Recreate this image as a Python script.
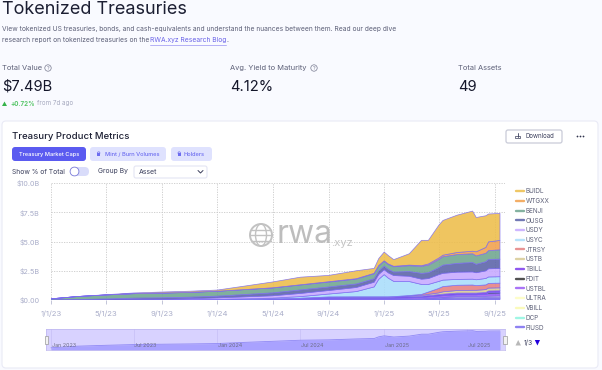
import numpy as np, pandas as pd, seaborn as sns
import matplotlib
matplotlib.use("Agg")
import matplotlib.pyplot as plt
from matplotlib.lines import Line2D
from matplotlib.patches import FancyBboxPatch, Circle, Ellipse, Polygon, Rectangle

dates = ["2023-01-01","2023-03-01","2023-05-01","2023-07-01","2023-09-01","2023-11-01","2024-01-01","2024-03-01",
         "2024-05-01","2024-07-01","2024-09-01","2024-11-01","2024-12-10","2024-12-20","2025-01-01","2025-01-10","2025-01-22",
         "2025-02-25","2025-03-24","2025-04-08","2025-05-01","2025-05-10","2025-06-10","2025-07-14","2025-07-22",
         "2025-08-12","2025-08-18","2025-09-12"]
FIUSD=[0,0,0,0,0,0,0,0,0,0,0,0,0,0,0,0,.01,.02,.03,.05,.08,.1,.12,.12,.12,.13,.13,.13]
DCP  =[0,0,0,0,0,0,0,0,0,0,0,.01,.01,.01,.01,.01,.01,.02,.02,.02,.02,.02,.03,.03,.03,.03,.03,.03]
VBILL=[0,0,0,0,0,0,0,0,0,0,0,0,0,0,0,0,0,.01,.01,.02,.04,.05,.06,.06,.06,.07,.07,.08]
ULTRA=[0,0,0,0,0,0,0,0,.01,.02,.03,.03,.03,.03,.03,.03,.03,.04,.04,.05,.05,.05,.08,.08,.08,.08,.09,.1]
USTBL=[0,0,0,0,0,0,.01,.02,.03,.05,.1,.1,.1,.1,.1,.1,.1,.1,.12,.13,.15,.15,.16,.16,.16,.18,.2,.2]
FDIT =[0,0,0,0,0,0,0,0,0,0,0,0,0,0,0,0,0,0,0,0,0,0,0,0,0,0,.1,.1]
TBILL=[0,0,0,0,0,0,0,.02,.04,.06,.1,.1,.1,.1,.1,.1,.1,.1,.1,.11,.12,.13,.14,.14,.14,.15,.15,.15]
USTB =[0,0,0,0,0,0,0,0,.01,.02,.03,.03,.03,.03,.03,.03,.04,.06,.08,.1,.15,.2,.22,.24,.24,.25,.25,.25]
JTRSY=[0,0,0,0,0,0,0,0,0,0,0,0,0,0,0,0,0,.03,.08,.2,.38,.45,.45,.45,.4,.4,.4,.4]
USYC =[0,0,.01,.02,.03,.03,.05,.06,.07,.14,.25,.45,.85,1.5,1.9,1.6,1.3,1.2,.85,.65,.6,.55,.5,.5,.5,.55,.55,.55]
USDY =[0,0,0,.01,.03,.08,.12,.17,.2,.27,.3,.35,.4,.41,.42,.45,.5,.45,.45,.5,.58,.58,.62,.62,.6,.65,.7,.7]
OUSG =[.01,.04,.08,.13,.13,.13,.15,.2,.25,.3,.3,.3,.3,.3,.3,.3,.3,.4,.5,.5,.6,.7,.75,.8,.72,.78,.8,.8]
BENJI=[.09,.26,.34,.38,.4,.41,.42,.42,.42,.42,.42,.42,.43,.43,.43,.43,.45,.5,.6,.65,.7,.72,.75,.75,.72,.72,.75,.8]
WTGXX=[0,0,0,0,0,0,0,0,.01,.02,.03,.03,.03,.03,.03,.03,.04,.05,.05,.1,.12,.13,.18,.22,.35,.5,.75,.8]
BUIDL=[0,0,.02,.06,.09,.1,.1,.3,.5,.65,.54,.68,.42,.6,.75,.72,.57,.97,2.17,2.02,2.81,2.97,3.19,3.43,2.93,2.71,2.38,2.31]
labels_top = ["BUIDL","WTGXX","BENJI","OUSG","USDY","USYC","JTRSY","USTB","TBILL","FDIT","USTBL","ULTRA","VBILL","DCP","FIUSD"]
values_top = [BUIDL,WTGXX,BENJI,OUSG,USDY,USYC,JTRSY,USTB,TBILL,FDIT,USTBL,ULTRA,VBILL,DCP,FIUSD]
colors_top = ["#EDBD4A","#F2A04B","#6FA58F","#5A62A8","#C6A9FF","#A9DDFB","#E58080","#D8CA94","#7C3AED","#333333",
              "#9B5CF6","#FDFDC0","#FAFAB0","#8FF5E0","#7B6CF0"]
y_ticks = [0,2.5,5,7.5,10]
y_labels = ["$0.00","$2.5B","$5.0B","$7.5B","$10.0B"]
x_ticks = ["2023-01-01","2023-05-01","2023-09-01","2024-01-01","2024-05-01","2024-09-01","2025-01-01","2025-05-01","2025-09-01"]
x_labels = ["1/1/23","5/1/23","9/1/23","1/1/24","5/1/24","9/1/24","1/1/25","5/1/25","9/1/25"]
nav_ticks = ["2023-01-01","2023-07-01","2024-01-01","2024-07-01","2025-01-01","2025-07-01"]
nav_labels = ["Jan 2023","Jul 2023","Jan 2024","Jul 2024","Jan 2025","Jul 2025"]

sns.set_theme(style="white")
plt.rcParams["font.family"] = ["Inter","DejaVu Sans"]
W,H = 602,370
fig = plt.figure(figsize=(W/100,H/100),dpi=100,facecolor="#F9FAFF")

def axes_px(x0,y0,x1,y1,**kw):
    return fig.add_axes([x0/W,1-y1/H,(x1-x0)/W,(y1-y0)/H],**kw)

ui = axes_px(0,0,W,H); ui.set_xlim(0,W); ui.set_ylim(H,0); ui.axis("off"); ui.set_zorder(0)
def T(x,y,s,size,color="#3b3f5c",ha="left",weight="normal",**kw):
    return ui.text(x,y,s,fontsize=size,color=color,ha=ha,va="center",fontweight=weight,**kw)
def box(x0,y0,x1,y1,fc,ec="none",r=2,lw=.8,z=1):
    ui.add_patch(FancyBboxPatch((x0+r,y0+r),x1-x0-2*r,y1-y0-2*r,boxstyle=f"round,pad={r},rounding_size={r}",fc=fc,ec=ec,lw=lw,zorder=z))

T(2,9,"Tokenized Treasuries",13,"#1c1f33")
T(2,29,"View tokenized US treasuries, bonds, and cash-equivalents and understand the nuances between them. Read our deep dive",4.8,"#5d6078")
T(2,40,"research report on tokenized treasuries on the",4.8,"#5d6078")
T(150,40,"RWA.xyz Research Blog",4.8,"#6a63e8")
ui.plot([150,226],[44.5,44.5],color="#a9a4f5",lw=.6)
T(226.5,40,".",4.8,"#5d6078")
T(2,68,"Total Value",5.4,"#5d6078")
T(230,68,"Avg. Yield to Maturity",5.4,"#5d6078")
T(458,68,"Total Assets",5.4,"#5d6078")
T(2,87,"$7.49B",10.6,"#14162a"); T(230,87,"4.12%",10.6,"#14162a"); T(458,87,"49",10.6,"#14162a")
for cx in (48,314):
    ui.add_patch(Circle((cx,68),3.2,fc="none",ec="#777a90",lw=.5)); T(cx,68,"?",3.8,"#777a90",ha="center")
ui.add_patch(Polygon([[2,106],[7,106],[4.5,101.5]],fc="#35b34a",ec="none"))
T(10,103.5,"+0.72%",4.5,"#58c66a",weight="bold"); T(37,103.5,"from 7d ago",4.5,"#a6a9bf")

box(2,121,598,368,"white","#e9eaf6",r=4)
T(12,136.5,"Treasury Product Metrics",6.9,"#1c1f33",weight="medium")
box(12,147,86,161,"#5B5BF0",r=3); T(49,154.3,"Treasury Market Caps",4.1,"white",ha="center",weight="medium")
box(90,147,166,161,"#DFE2FE",r=3); T(105,154.3,"Mint / Burn Volumes",4.1,"#6D6DF0",weight="medium")
box(171,147,212,161,"#DFE2FE",r=3); T(184,154.3,"Holders",4.1,"#6D6DF0",weight="medium")
for lx in (97,177.5):
    ui.add_patch(Rectangle((lx,153),3.4,3.4,fc="#6D6DF0",ec="none",zorder=3))
    ui.add_patch(Circle((lx+1.7,153),1.2,fc="none",ec="#6D6DF0",lw=.5,zorder=3))
T(12,171.5,"Show % of Total",4.85,"#3b3f5c")
box(70,167,89,176,"#D9DCFA",r=4.4)
ui.add_patch(Circle((74.5,171.5),4.4,fc="white",ec="#7b7bd8",lw=.6,zorder=3))
T(98,171.5,"Group By",4.85,"#3b3f5c")
box(134,166,207,178,"white","#e4e5f3",r=2); T(139,172,"Asset",5,"#3b3f5c")
ui.plot([198,200.5,203],[170.5,173,170.5],color="#3b3f5c",lw=.7,zorder=3)
box(506,130,562,143,"white","#c9cbd8",r=2,lw=.9); T(526,136.5,"Download",4.4,"#3b3f5c")
ui.add_patch(Rectangle((515,136.2),5,2.2,fc="none",ec="#3b3f5c",lw=.5,zorder=3))
ui.plot([517.5,517.5],[132.5,136.5],color="#3b3f5c",lw=.6,zorder=3)
ui.scatter([577,580,583],[136,136,136],s=1.6,color="#30334d",zorder=3,linewidths=0)

# main stacked chart
d = pd.to_datetime(dates)
ax = axes_px(51,183,505,300); ax.set_zorder(2); ax.patch.set_alpha(0)
xmin = pd.Timestamp("2023-01-01"); xmax = pd.Timestamp("2025-09-23")
rev = list(range(len(values_top)-1,-1,-1))
ax.stackplot(d,[values_top[i] for i in rev],colors=[colors_top[i] for i in rev],
             alpha=.88,edgecolor=[colors_top[i] for i in rev],linewidth=.5,zorder=3)
ax.set_xlim(xmin,xmax); ax.set_ylim(0,10)
ax.set_yticks(y_ticks); ax.set_yticklabels(y_labels)
ax.set_xticks(pd.to_datetime(x_ticks)); ax.set_xticklabels(x_labels)
ax.tick_params(axis="x",length=3,width=.6,color="#b9bcd2",labelcolor="#a9adc9",labelsize=5.6,pad=4.5,bottom=True)
ax.tick_params(axis="y",length=0,labelcolor="#a9adc9",labelsize=5.2,pad=8)
ax.grid(True,color="#c9c9c9",ls=(0,(1.5,1.5)),lw=.6); ax.set_axisbelow(True)
sns.despine(ax=ax,left=True,right=True,top=True,bottom=True)

# watermark
ax.text(0.497,0.56,"rwa",transform=ax.transAxes,fontsize=23,color="#bdbdbd",va="center",ha="left",zorder=1)
ax.text(0.617,0.49,".xyz",transform=ax.transAxes,fontsize=8,color="#c5c5c5",va="center",ha="left",zorder=1)
gx,gy = 261,235
ui.add_patch(Circle((gx,gy),11,fc="none",ec="#c2c2c2",lw=1.4,zorder=2))
ui.add_patch(Ellipse((gx,gy),11,22,fc="none",ec="#c2c2c2",lw=1,zorder=2))
for dy,hw in ((-5.5,9.5),(0,11),(5.5,9.5)):
    ui.plot([gx-hw,gx+hw],[gy+dy,gy+dy],color="#c2c2c2",lw=1,zorder=2)

# legend
handles = [Line2D([0],[0],color=c,lw=1.7,alpha=.85) for c in colors_top]
fig.legend(handles,labels_top,loc="upper left",bbox_to_anchor=(516/W,1-188.3/H),frameon=False,fontsize=4.6,
           labelspacing=.585,handlelength=1.25,handletextpad=.31,borderpad=0,borderaxespad=0,labelcolor="#5d6078")
ui.add_patch(Polygon([[515.5,345.5],[521,345.5],[518.2,340]],fc="#b8b8b8",ec="none"))
T(524,342.8,"1/3",4.8,"#3b3f5c")
ui.add_patch(Polygon([[534.8,340],[540,340],[537.4,345.5]],fc="#2200dd",ec="none"))

# navigator
nav = axes_px(46,329,505,350); nav.set_zorder(2)
total = np.sum(np.array(values_top),axis=0)
nav.set_facecolor("#D8D2FF")
nav.fill_between(d,total,0,color="#A9A2FF",lw=0)
sns.lineplot(x=d,y=total,ax=nav,color="#8F88F5",lw=.6)
nav.set_yscale("function",functions=(np.sqrt,np.square))
nav.set_xlim(pd.Timestamp("2023-01-01")-pd.Timedelta(days=11),xmax); nav.set_ylim(0,9)
nav.set_yticks([]); nav.set_ylabel(""); nav.set_xlabel("")
nav.set_xticks(pd.to_datetime(nav_ticks)); nav.set_xticklabels([])
nav.tick_params(axis="x",length=0)
nav.grid(True,axis="x",color="#C6BFF5",lw=.5)
for t,l in zip(pd.to_datetime(nav_ticks),nav_labels):
    nav.annotate(l,(t,0),xytext=(.7,1.2),textcoords="offset points",fontsize=3.9,color="#6d6d88",va="bottom",ha="left")
for s in nav.spines.values(): s.set_color("#BDB6EE"); s.set_linewidth(.5)
for hx in (46.3,505):
    fig.add_artist(Rectangle(((hx-1.7)/W,1-344/H),3.4/W,8/H,transform=fig.transFigure,fc="#f2f2f2",ec="#9a9a9a",lw=.5,zorder=5))

fig.savefig("out.png",dpi=100,facecolor=fig.get_facecolor())
